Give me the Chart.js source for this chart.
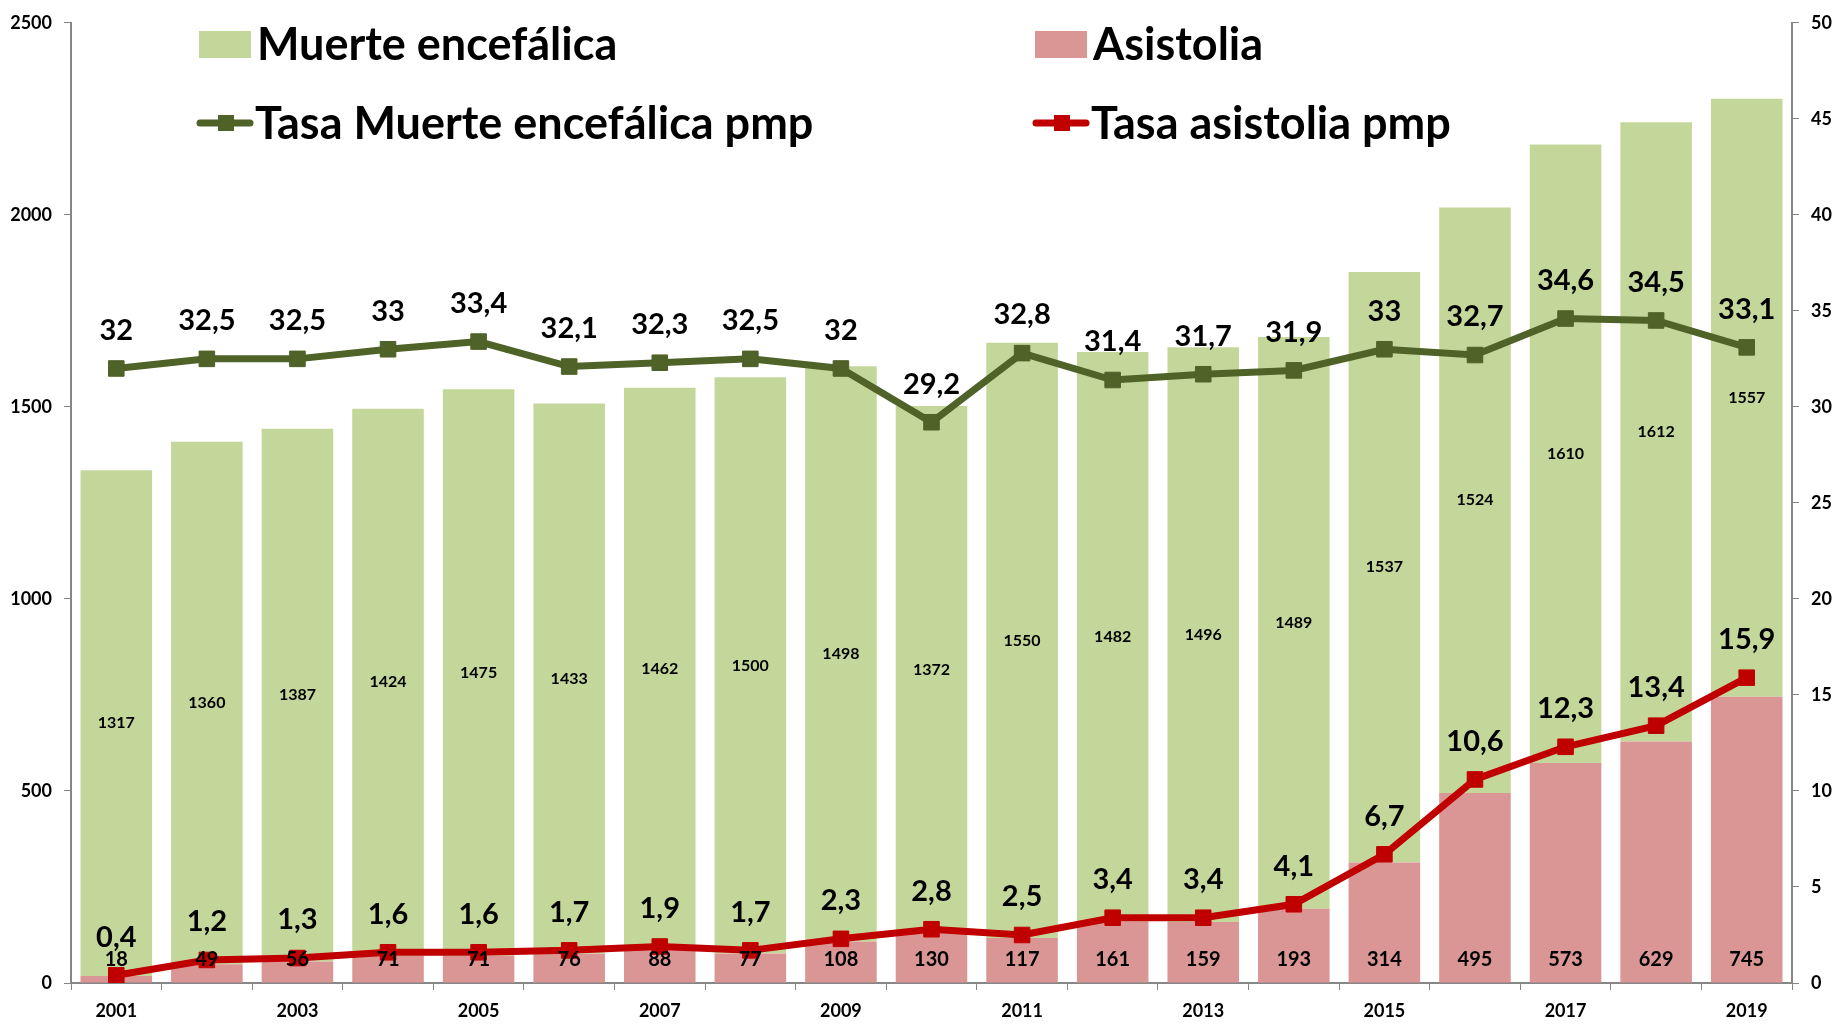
<!DOCTYPE html>
<html>
<head>
<meta charset="utf-8">
<script src="https://cdn.jsdelivr.net/npm/chart.js@4.4.1/dist/chart.umd.min.js"></script>
<style>
  html, body { margin: 0; padding: 0; background: #fff; }
</style>
</head>
<body>
<canvas id="myChart" width="1845" height="1024"></canvas>
<script>
const years = ['2001', '2002', '2003', '2004', '2005', '2006', '2007', '2008', '2009', '2010',
    '2011', '2012', '2013', '2014', '2015', '2016', '2017', '2018', '2019'];
const muerteEncefalica = [1317, 1360, 1387, 1424, 1475, 1433, 1462, 1500, 1498, 1372,
    1550, 1482, 1496, 1489, 1537, 1524, 1610, 1612, 1557];
const asistolia = [18, 49, 56, 71, 71, 76, 88, 77, 108, 130,
    117, 161, 159, 193, 314, 495, 573, 629, 745];
const tasaMuerteEncefalica = [32, 32.5, 32.5, 33, 33.4, 32.1, 32.3, 32.5, 32, 29.2,
    32.8, 31.4, 31.7, 31.9, 33, 32.7, 34.6, 34.5, 33.1];
const tasaAsistolia = [0.4, 1.2, 1.3, 1.6, 1.6, 1.7, 1.9, 1.7, 2.3, 2.8,
    2.5, 3.4, 3.4, 4.1, 6.7, 10.6, 12.3, 13.4, 15.9];

const FONT = 'Lato';
const axisColor = '#868686';

// decimales con coma
const fmt = v => String(v).replace('.', ',');

// etiquetas de valores sobre barras y puntos
const etiquetasPlugin = {
    id: 'etiquetas',
    afterDatasetsDraw(chart) {
        const ctx = chart.ctx;
        const base = chart.scales.y.getPixelForValue(0);
        ctx.save();
        ctx.fillStyle = '#000';
        ctx.textAlign = 'center';
        ctx.textBaseline = 'middle';
        chart.data.datasets.forEach((ds, i) => {
            const meta = chart.getDatasetMeta(i);
            meta.data.forEach((el, j) => {
                const v = ds.data[j];
                if (ds.type === 'line') {
                    ctx.font = 'bold 29px ' + FONT;
                    ctx.fillText(fmt(v), el.x, el.y - 38);
                } else if (ds.label === 'Asistolia') {
                    ctx.font = 'bold 20px ' + FONT;
                    ctx.fillText(v, el.x, base - 23);
                } else {
                    ctx.font = 'bold 16px ' + FONT;
                    ctx.fillText(v, el.x, (el.y + el.base) / 2);
                }
            });
        });
        ctx.restore();
    }
};

// leyenda en dos columnas dibujada a mano
const leyendaPlugin = {
    id: 'leyenda',
    afterDraw(chart) {
        const ctx = chart.ctx;
        const ds = chart.data.datasets;
        const items = [
            { d: ds[1], x: 199, y: 44 },
            { d: ds[0], x: 1035, y: 44 },
            { d: ds[2], x: 197, y: 123 },
            { d: ds[3], x: 1033, y: 123 }
        ];
        ctx.save();
        items.forEach(it => {
            if (it.d.type === 'line') {
                ctx.strokeStyle = it.d.borderColor;
                ctx.lineWidth = 7;
                ctx.lineCap = 'round';
                ctx.beginPath();
                ctx.moveTo(it.x + 3, it.y);
                ctx.lineTo(it.x + 53, it.y);
                ctx.stroke();
                ctx.fillStyle = it.d.borderColor;
                ctx.fillRect(it.x + 21, it.y - 8, 16, 16);
            } else {
                ctx.fillStyle = it.d.backgroundColor;
                ctx.fillRect(it.x, it.y - 13, 52, 27);
            }
            ctx.fillStyle = '#000';
            ctx.font = 'bold 45px ' + FONT;
            ctx.textAlign = 'left';
            ctx.textBaseline = 'middle';
            ctx.fillText(it.d.label, it.x + 58, it.y + 1);
        });
        ctx.restore();
    }
};

const tickFont = { family: FONT, weight: 'bold', size: 18 };
const plainTick = value => String(value);

const ctx = document.getElementById('myChart');
new Chart(ctx, {
    type: 'bar',
    data: {
        labels: years,
        datasets: [
            {
                label: 'Asistolia',
                data: asistolia,
                backgroundColor: '#DA9694',
                barPercentage: 0.79,
                categoryPercentage: 1.0,
                yAxisID: 'y',
                order: 2
            },
            {
                label: 'Muerte encefálica',
                data: muerteEncefalica,
                backgroundColor: '#C4D79B',
                barPercentage: 0.79,
                categoryPercentage: 1.0,
                yAxisID: 'y',
                order: 2
            },
            {
                type: 'line',
                label: 'Tasa Muerte encefálica pmp',
                data: tasaMuerteEncefalica,
                borderColor: '#4F6228',
                backgroundColor: '#4F6228',
                borderWidth: 7,
                pointStyle: 'rect',
                pointRadius: 11,
                pointBorderWidth: 1,
                tension: 0,
                yAxisID: 'y2',
                order: 1
            },
            {
                type: 'line',
                label: 'Tasa asistolia pmp',
                data: tasaAsistolia,
                borderColor: '#C00000',
                backgroundColor: '#C00000',
                borderWidth: 7,
                pointStyle: 'rect',
                pointRadius: 11,
                pointBorderWidth: 1,
                tension: 0,
                yAxisID: 'y2',
                order: 0
            }
        ]
    },
    options: {
        responsive: false,
        animation: false,
        layout: { padding: { top: 13, left: 0, right: 0, bottom: 0 } },
        plugins: {
            legend: { display: false },
            tooltip: { enabled: false }
        },
        scales: {
            x: {
                stacked: true,
                grid: { drawOnChartArea: false, drawTicks: true, tickLength: 7, color: axisColor, offset: true },
                border: { color: axisColor, width: 2 },
                ticks: {
                    autoSkip: false,
                    maxRotation: 0,
                    color: '#000',
                    font: tickFont,
                    padding: 10,
                    callback(value, index) {
                        return index % 2 === 0 ? this.getLabelForValue(value) : '';
                    }
                },
                afterFit(scale) { scale.height = 41; }
            },
            y: {
                stacked: true,
                position: 'left',
                min: 0,
                max: 2500,
                grid: { drawOnChartArea: false, drawTicks: true, tickLength: 7, color: axisColor },
                border: { color: axisColor, width: 2 },
                ticks: { stepSize: 500, color: '#000', font: tickFont, padding: 12, callback: plainTick },
                afterFit(scale) { scale.width = 71; }
            },
            y2: {
                position: 'right',
                min: 0,
                max: 50,
                grid: { drawOnChartArea: false, drawTicks: true, tickLength: 7, color: axisColor },
                border: { color: axisColor, width: 2 },
                ticks: { stepSize: 5, color: '#000', font: tickFont, padding: 12, callback: plainTick },
                afterFit(scale) { scale.width = 53; }
            }
        }
    },
    plugins: [etiquetasPlugin, leyendaPlugin]
});
</script>
</body>
</html>
